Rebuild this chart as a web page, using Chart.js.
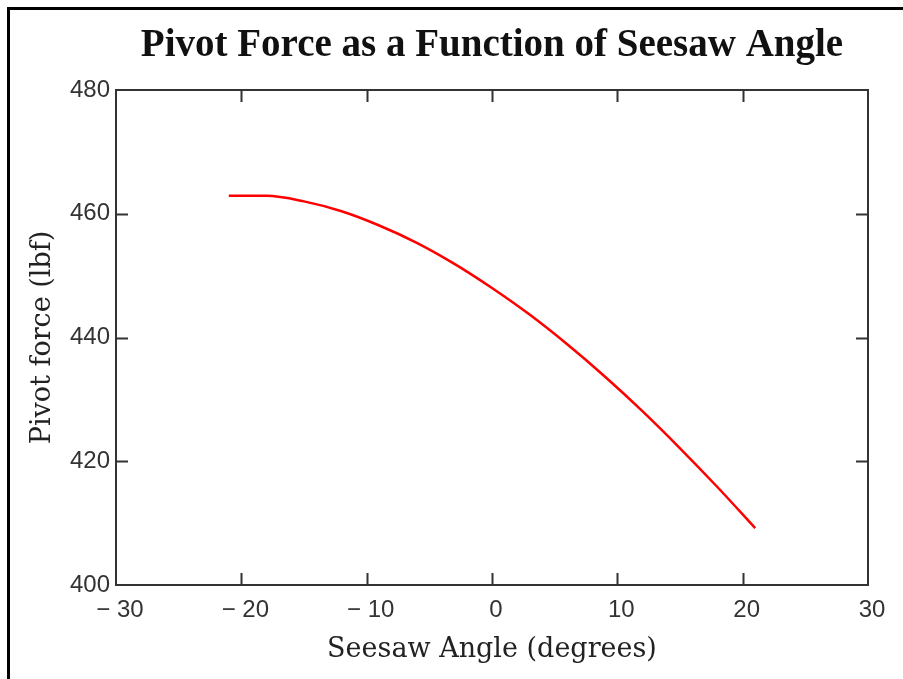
<!DOCTYPE html>
<html>
<head>
<meta charset="utf-8">
<script src="https://cdn.jsdelivr.net/npm/chart.js@4.4.1/dist/chart.umd.min.js"></script>
<style>
  html, body { margin: 0; padding: 0; background: #fff; }
  #wrap { width: 903px; height: 679px; }
</style>
</head>
<body>
<div id="wrap"><canvas id="lineChart"></canvas></div>
<script>
// seesaw angle (degrees) vs pivot force (lbf)
const angles = [-21, -18, -15, -12, -9, -6, -3, 0, 3, 6, 9, 12, 15, 18, 21]
const pivotForce = [462.9, 462.9, 462.0, 460.4, 458.1, 455.3, 451.9, 448.0, 443.7, 438.9, 433.7, 428.1, 422.1, 415.8, 409.2]
const xTicks = [-30, -20, -10, 0, 10, 20, 30]
const yTicks = [400, 420, 440, 460, 480]

const tickLen = 12

// outer page frame, plot box and the inward tick marks
const framePlugin = {
  id: 'frame',
  beforeDraw(chart) {
    const ctx = chart.ctx
    ctx.save()
    ctx.fillStyle = '#fff'
    ctx.fillRect(0, 0, chart.width, chart.height)
    ctx.strokeStyle = '#000'
    ctx.lineWidth = 3
    ctx.beginPath()
    ctx.moveTo(8.5, chart.height)
    ctx.lineTo(8.5, 8.5)
    ctx.lineTo(chart.width, 8.5)
    ctx.stroke()
    ctx.restore()
  },
  afterDatasetsDraw(chart) {
    const { ctx, chartArea: a, scales: { x, y } } = chart
    ctx.save()
    ctx.strokeStyle = '#333'
    ctx.lineWidth = 2
    ctx.strokeRect(a.left, a.top, a.right - a.left, a.bottom - a.top)
    ctx.beginPath()
    xTicks.slice(1, -1).forEach(v => {
      const px = Math.round(x.getPixelForValue(v)) + 0.5
      ctx.moveTo(px, a.bottom); ctx.lineTo(px, a.bottom - tickLen)
      ctx.moveTo(px, a.top); ctx.lineTo(px, a.top + tickLen)
    })
    yTicks.slice(1, -1).forEach(v => {
      const py = Math.round(y.getPixelForValue(v)) + 0.5
      ctx.moveTo(a.left, py); ctx.lineTo(a.left + tickLen, py)
      ctx.moveTo(a.right, py); ctx.lineTo(a.right - tickLen, py)
    })
    ctx.stroke()
    ctx.restore()
  }
}

const tickFont = { family: "'Liberation Sans', Arial, sans-serif", size: 24 }
const titleFont = { family: "'DejaVu Serif', 'Liberation Serif', serif", size: 27 }

const ctxL = document.getElementById('lineChart').getContext('2d')
const myLineChart = new Chart(ctxL, {
  type: 'line',
  data: {
    datasets: [{
      data: angles.map((a, i) => ({ x: a, y: pivotForce[i] })),
      borderColor: '#ff0000',
      borderWidth: 2.5,
      pointRadius: 0,
      cubicInterpolationMode: 'monotone',
      fill: false
    }]
  },
  options: {
    responsive: true,
    maintainAspectRatio: false,
    animation: false,
    devicePixelRatio: 1,
    layout: { padding: { left: 0, right: 35, top: 0, bottom: 0 } },
    plugins: {
      legend: { display: false },
      tooltip: { enabled: false },
      title: {
        display: true,
        fullSize: false,
        text: 'Pivot Force as a Function of Seesaw Angle',
        color: '#111',
        font: { family: "'Liberation Serif', 'Times New Roman', serif", size: 39, weight: 'bold', lineHeight: 1.2 },
        padding: { top: 23, bottom: 20.2 }
      }
    },
    scales: {
      x: {
        type: 'linear',
        min: -30,
        max: 30,
        afterBuildTicks: s => { s.ticks = xTicks.map(v => ({ value: v })) },
        afterFit: s => { s.height = 94 },
        grid: { display: false, drawTicks: false },
        border: { display: false },
        ticks: {
          color: '#333',
          font: tickFont,
          padding: 11,
          labelOffset: 4,
          maxRotation: 0,
          callback: v => v < 0 ? '\u2212 ' + Math.abs(v) : String(v)
        },
        title: {
          display: true,
          text: 'Seesaw Angle (degrees)',
          color: '#222',
          font: titleFont,
          padding: { top: 0, bottom: 13 }
        }
      },
      y: {
        min: 400,
        max: 480,
        afterBuildTicks: s => { s.ticks = yTicks.map(v => ({ value: v })) },
        afterFit: s => { s.width = 116 },
        grid: { display: false, drawTicks: false },
        border: { display: false },
        ticks: {
          color: '#333',
          font: tickFont,
          padding: 6
        },
        title: {
          display: true,
          text: 'Pivot force (lbf)',
          color: '#222',
          font: titleFont,
          padding: { top: 27, bottom: 0 }
        }
      }
    }
  },
  plugins: [framePlugin]
})
</script>
</body>
</html>
